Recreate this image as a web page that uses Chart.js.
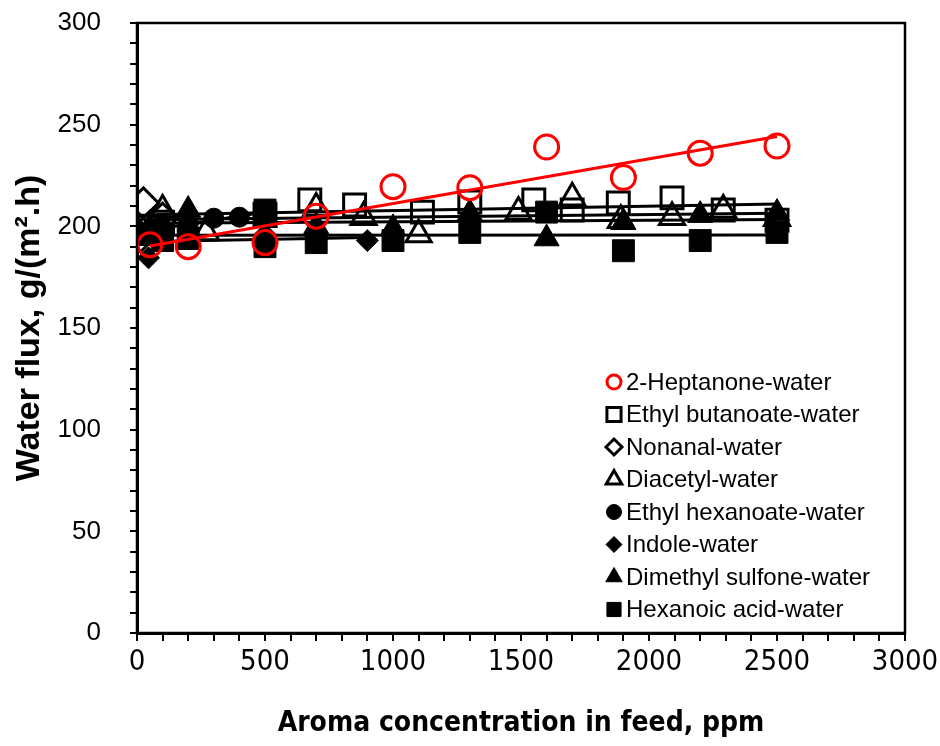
<!DOCTYPE html>
<html>
<head>
<meta charset="utf-8">
<title>Water flux vs aroma concentration</title>
<script src="https://cdn.jsdelivr.net/npm/chart.js"></script>
<style>
  html, body { margin: 0; padding: 0; background: #fff; }
  #wrap { width: 940px; height: 746px; }
</style>
</head>
<body>
<div id="wrap"><canvas id="fluxChart" width="940" height="746"></canvas></div>
<script>
    // feed concentration (ppm) / water flux g/(m2.h) for each aroma-water mixture
    const heptanoneX = [50, 200, 500, 700, 1000, 1300, 1600, 1900, 2200, 2500]
    const heptanoneY = [191, 190, 192, 205, 219.5, 219, 239, 224, 236, 239.5]

    const butanoateX = [50, 100, 500, 675, 850, 1115, 1300, 1550, 1700, 1880, 2090, 2290, 2500]
    const butanoateY = [200, 202, 206, 213, 210.5, 207, 212, 213, 208, 211.5, 214, 208, 203]

    const nonanalX = [5, 15, 25, 50, 100]
    const nonanalY = [199, 195, 211.5, 200, 204]

    const diacetylX = [100, 270, 700, 885, 1100, 1490, 1700, 1890, 2090, 2290, 2500]
    const diacetylY = [208, 197, 209, 204.5, 196, 207, 214, 203, 204.5, 208, 204]

    const hexanoateX = [50, 100, 200, 300, 400, 500]
    const hexanoateY = [198, 199, 201, 204, 204.5, 207]

    const indoleX = [0, 45, 100, 200, 500, 900]
    const indoleY = [197, 184.5, 193, 195, 196, 193]

    const sulfoneX = [50, 200, 500, 700, 1000, 1300, 1600, 1900, 2200, 2500]
    const sulfoneY = [199, 208, 203, 200, 199, 206.5, 194, 202, 205.5, 206.5]

    const hexanoicX = [50, 100, 200, 500, 500, 700, 1000, 1300, 1600, 1900, 2200, 2500]
    const hexanoicY = [196, 193, 194, 190, 208, 192, 193, 197, 207, 188, 193, 197]

    const xTicks = [0, 500, 1000, 1500, 2000, 2500, 3000]
    const yTicks = [0, 50, 100, 150, 200, 250, 300]

    const FONT = '"Liberation Sans", Arial, sans-serif'
    const NARROW = '"Liberation Sans Narrow", "DejaVu Sans Condensed", ' + FONT

    const series = [
        { label: '2-Heptanone-water', xs: heptanoneX, ys: heptanoneY, style: 'circle', color: '#ff0000', open: true, r: 12, lr: 7 },
        { label: 'Ethyl butanoate-water', xs: butanoateX, ys: butanoateY, style: 'rect', color: '#000', open: true, r: 15.5, lr: 10 },
        { label: 'Nonanal-water', xs: nonanalX, ys: nonanalY, style: 'rectRot', color: '#000', open: true, r: 15, lr: 8 },
        { label: 'Diacetyl-water', xs: diacetylX, ys: diacetylY, style: 'triangle', color: '#000', open: true, r: 14.5, lr: 9 },
        { label: 'Ethyl hexanoate-water', xs: hexanoateX, ys: hexanoateY, style: 'circle', color: '#000', open: false, r: 10, lr: 7.5 },
        { label: 'Indole-water', xs: indoleX, ys: indoleY, style: 'rectRot', color: '#000', open: false, r: 11, lr: 8 },
        { label: 'Dimethyl sulfone-water', xs: sulfoneX, ys: sulfoneY, style: 'triangle', color: '#000', open: false, r: 14.5, lr: 9.5 },
        { label: 'Hexanoic acid-water', xs: hexanoicX, ys: hexanoicY, style: 'rect', color: '#000', open: false, r: 15.5, lr: 10 }
    ]

    // least squares trendline over the measured range
    const fitLine = (xs, ys) => {
        const n = xs.length
        const mx = xs.reduce((a, b) => a + b, 0) / n
        const my = ys.reduce((a, b) => a + b, 0) / n
        let sxy = 0, sxx = 0
        xs.forEach((x, i) => { sxy += (x - mx) * (ys[i] - my); sxx += (x - mx) * (x - mx) })
        const k = sxy / sxx
        const b = my - k * mx
        const x0 = Math.min(...xs), x1 = Math.max(...xs)
        return [{ x: x0, y: b + k * x0 }, { x: x1, y: b + k * x1 }]
    }

    const markerSets = series.map(s => ({
        label: s.label,
        data: s.xs.map((x, i) => ({ x: x, y: s.ys[i] })),
        showLine: false,
        pointStyle: s.style,
        pointRadius: s.r,
        pointHoverRadius: s.r,
        pointBorderWidth: s.open ? 3 : 1,
        borderColor: s.color,
        backgroundColor: s.open ? 'rgba(0,0,0,0)' : s.color
    }))

    const trendSets = series.map(s => ({
        label: s.label + ' trend',
        data: fitLine(s.xs, s.ys),
        showLine: true,
        pointRadius: 0,
        borderColor: s.color,
        borderWidth: 3,
        fill: false
    }))

    // first dataset is drawn on top: red markers and line, black markers, black lines
    const datasets = [markerSets[0], trendSets[0]].concat(markerSets.slice(1), trendSets.slice(1))

    // plot frame and legend inside the plot area
    const frameLegend = {
        id: 'frameLegend',
        afterDraw(chart) {
            const ctx = chart.ctx
            const a = chart.chartArea
            ctx.save()
            ctx.strokeStyle = '#000'
            ctx.lineWidth = 2.5
            ctx.strokeRect(a.left, a.top, a.right - a.left, a.bottom - a.top)

            ctx.font = '24px ' + FONT
            ctx.textBaseline = 'middle'
            ctx.textAlign = 'left'
            series.forEach((s, i) => {
                const y = 382 + i * 32.5
                ctx.strokeStyle = s.color
                ctx.fillStyle = s.open ? 'rgba(0,0,0,0)' : s.color
                ctx.lineWidth = s.open ? 3 : 1
                Chart.helpers.drawPoint(ctx, { pointStyle: s.style, radius: s.lr, borderWidth: ctx.lineWidth }, 614, y)
                ctx.fillStyle = '#000'
                ctx.fillText(s.label, 626, y + 1)
            })
            ctx.restore()
        }
    }

    new Chart(document.getElementById('fluxChart').getContext('2d'), {
        type: 'scatter',
        data: { datasets: datasets },
        options: {
            responsive: false,
            animation: false,
            devicePixelRatio: 1,
            layout: { padding: { top: 23, right: 35, left: 0, bottom: 0 } },
            plugins: {
                legend: { display: false },
                tooltip: { enabled: false }
            },
            scales: {
                x: {
                    type: 'linear',
                    min: 0,
                    max: 3000,
                    afterFit: (scale) => {
                        scale.height = 113
                        scale.paddingLeft = 0
                        scale.paddingRight = 0
                    },
                    afterBuildTicks: (scale) => {
                        scale.ticks = []
                        for (let v = 0; v <= 3000; v += 100) scale.ticks.push({ value: v })
                    },
                    ticks: {
                        autoSkip: false,
                        maxRotation: 0,
                        padding: 4,
                        color: '#000',
                        font: { family: NARROW, size: 29 },
                        callback: (v) => xTicks.includes(v) ? String(v) : ''
                    },
                    grid: { drawOnChartArea: false, drawTicks: true, tickLength: 8, color: '#000', lineWidth: 2 },
                    border: { display: true, color: '#000', width: 3 },
                    title: {
                        display: true,
                        text: 'Aroma concentration in feed, ppm',
                        color: '#000',
                        font: { family: NARROW, size: 28, weight: 'bold' },
                        padding: { top: 0, bottom: 5 }
                    }
                },
                y: {
                    type: 'linear',
                    min: 0,
                    max: 300,
                    afterFit: (scale) => {
                        scale.width = 137
                        scale.paddingTop = 0
                        scale.paddingBottom = 0
                    },
                    afterBuildTicks: (scale) => {
                        scale.ticks = []
                        for (let v = 0; v <= 300; v += 10) scale.ticks.push({ value: v })
                    },
                    ticks: {
                        autoSkip: false,
                        padding: 29,
                        color: '#000',
                        font: { family: FONT, size: 26 },
                        callback: (v) => yTicks.includes(v) ? String(v) : ''
                    },
                    grid: { drawOnChartArea: false, drawTicks: true, tickLength: 7, color: '#000', lineWidth: 2 },
                    border: { display: true, color: '#000', width: 3 },
                    title: {
                        display: true,
                        text: 'Water flux, g/(m\u00b2.h)',
                        color: '#000',
                        font: { family: FONT, size: 34, weight: 'bold' },
                        padding: { top: 9, bottom: 0 }
                    }
                }
            }
        },
        plugins: [frameLegend]
    })
</script>
</body>
</html>
